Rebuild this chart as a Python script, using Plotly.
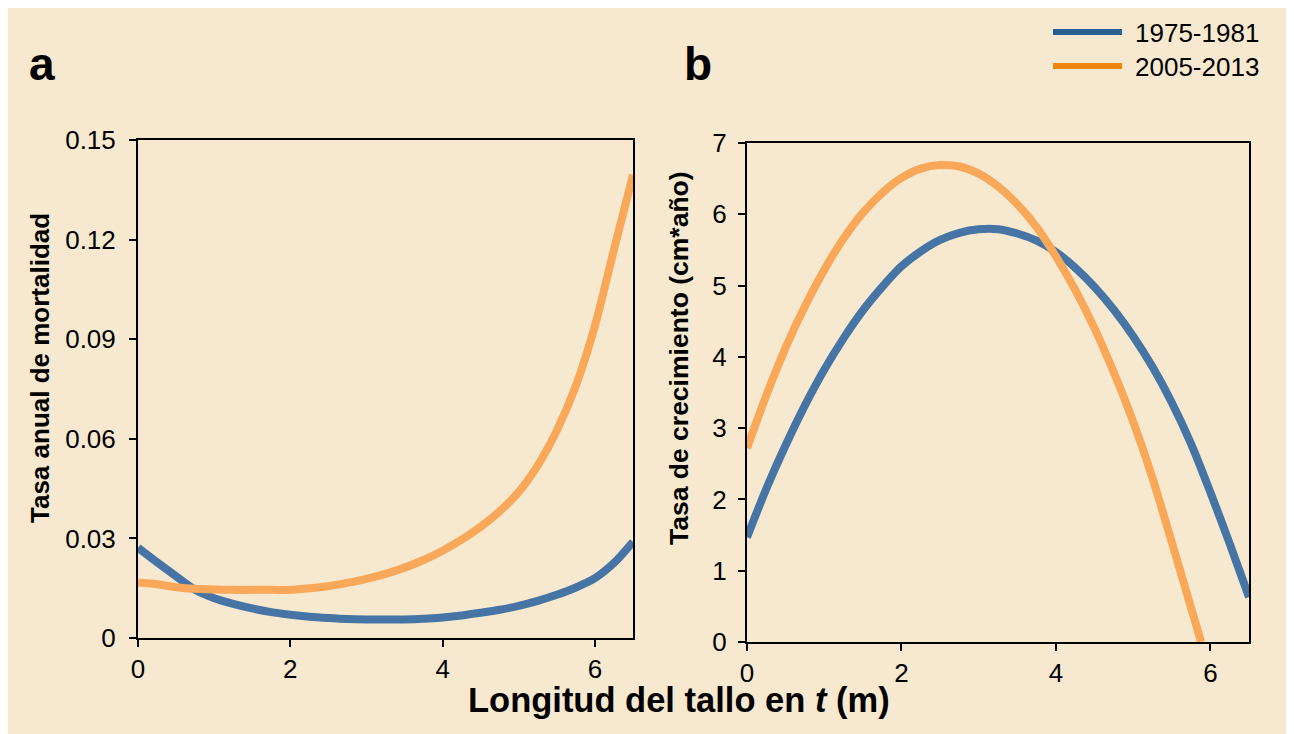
import plotly.graph_objects as go

# panel a: annual mortality rate
len_a = [0, 0.25, 0.5, 0.75, 1.0, 1.25, 1.5, 1.75, 2.0, 2.25, 2.5, 2.75, 3.0, 3.25,
         3.5, 3.75, 4.0, 4.25, 4.5, 4.75, 5.0, 5.25, 5.5, 5.75, 6.0, 6.25, 6.5]
mort_1975 = [0.0272, 0.0228, 0.0186, 0.0145, 0.0120, 0.0103, 0.0089, 0.0078, 0.0070,
             0.0064, 0.0060, 0.0057, 0.0056, 0.0056, 0.0056, 0.0058, 0.0062, 0.0068,
             0.0076, 0.0085, 0.0097, 0.0112, 0.0130, 0.0152, 0.0180, 0.0226, 0.0290]
mort_2005 = [0.0167, 0.0162, 0.0153, 0.0148, 0.0146, 0.0145, 0.0145, 0.0145, 0.0145,
             0.0150, 0.0156, 0.0166, 0.0178, 0.0193, 0.0212, 0.0235, 0.0263, 0.0296,
             0.0335, 0.0382, 0.0440, 0.0520, 0.0625, 0.0760, 0.0940, 0.1170, 0.1395]

# panel b: growth rate
len_b_1975 = [0, 0.25, 0.5, 0.75, 1.0, 1.25, 1.5, 1.75, 2.0, 2.25, 2.5, 2.75, 3.0, 3.25,
              3.5, 3.75, 4.0, 4.25, 4.5, 4.75, 5.0, 5.25, 5.5, 5.75, 6.0, 6.25, 6.5]
grow_1975 = [1.47, 2.15, 2.76, 3.32, 3.82, 4.26, 4.65, 4.98, 5.27, 5.48, 5.64, 5.74,
             5.79, 5.79, 5.73, 5.63, 5.47, 5.25, 4.98, 4.66, 4.29, 3.86, 3.36, 2.78,
             2.10, 1.38, 0.63]
len_b_2005 = [0, 0.25, 0.5, 0.75, 1.0, 1.25, 1.5, 1.75, 2.0, 2.25, 2.5, 2.75, 3.0, 3.25,
              3.5, 3.75, 4.0, 4.25, 4.5, 4.75, 5.0, 5.25, 5.5, 5.75, 5.88]
grow_2005 = [2.72, 3.46, 4.13, 4.71, 5.22, 5.66, 6.02, 6.30, 6.51, 6.64, 6.69, 6.67,
             6.57, 6.39, 6.14, 5.82, 5.41, 4.94, 4.40, 3.78, 3.09, 2.30, 1.40, 0.48, 0.0]

x_ticks = [0, 2, 4, 6]
mort_ticks = [0, 0.03, 0.06, 0.09, 0.12, 0.15]
mort_labels = ["0", "0.03", "0.06", "0.09", "0.12", "0.15"]
grow_ticks = [0, 1, 2, 3, 4, 5, 6, 7]

BLUE = "#4674A4"
ORANGE = "#F9A758"
BG = "#F7E9D0"
FONT = "Arial, Liberation Sans, sans-serif"

W, H = 1294, 734
OFFSET = 8  # page body margin pushes the figure 8px right and down

fig = go.Figure()
line_kw = dict(width=8, shape="spline", smoothing=0.8)
fig.add_trace(go.Scatter(x=len_a, y=mort_1975, mode="lines", line=dict(color=BLUE, **line_kw),
                         xaxis="x", yaxis="y", showlegend=False))
fig.add_trace(go.Scatter(x=len_a, y=mort_2005, mode="lines", line=dict(color=ORANGE, **line_kw),
                         xaxis="x", yaxis="y", showlegend=False))
fig.add_trace(go.Scatter(x=len_b_1975, y=grow_1975, mode="lines", line=dict(color=BLUE, **line_kw),
                         xaxis="x2", yaxis="y2", showlegend=False))
fig.add_trace(go.Scatter(x=len_b_2005, y=grow_2005, mode="lines", line=dict(color=ORANGE, **line_kw),
                         xaxis="x2", yaxis="y2", showlegend=False))

axis_common = dict(
    showline=True, linecolor="black", linewidth=2, mirror=True,
    ticks="outside", ticklen=7, tickwidth=2, tickcolor="black",
    showgrid=False, zeroline=False, automargin=False,
    tickfont=dict(family=FONT, size=26, color="black"),
)


def px_x(p):
    return (p - OFFSET) / W


def px_y(p):
    return 1 - (p - OFFSET) / H


def label(text, x, y, size, angle=0, xanchor="center"):
    return dict(text=text, x=px_x(x), y=px_y(y), xref="paper", yref="paper",
                xanchor=xanchor, yanchor="middle", showarrow=False, textangle=angle,
                font=dict(family=FONT, size=size, color="black"))


fig.update_layout(
    width=W, height=H,
    margin=dict(l=0, r=0, t=0, b=0, pad=0),
    paper_bgcolor="white",
    plot_bgcolor="white",
    xaxis=dict(domain=[px_x(138), px_x(633)], range=[0, 6.5], tickvals=x_ticks,
               anchor="y", **axis_common),
    yaxis=dict(domain=[px_y(638), px_y(140)], range=[0, 0.15], tickvals=mort_ticks,
               ticktext=mort_labels, anchor="x", ticklabelstandoff=8, **axis_common),
    xaxis2=dict(domain=[px_x(747), px_x(1249)], range=[0, 6.5], tickvals=x_ticks,
                anchor="y2", **axis_common),
    yaxis2=dict(domain=[px_y(642), px_y(143)], range=[0, 7], tickvals=grow_ticks,
                anchor="x2", ticklabelstandoff=6, **axis_common),
    shapes=[
        dict(type="rect", xref="paper", yref="paper", x0=0, x1=px_x(1288),
             y0=0, y1=1, fillcolor=BG, line=dict(width=0), layer="below"),
        dict(type="line", xref="paper", yref="paper", x0=px_x(1053), x1=px_x(1122),
             y0=px_y(32), y1=px_y(32), line=dict(color="#295E93", width=6)),
        dict(type="line", xref="paper", yref="paper", x0=px_x(1053), x1=px_x(1122),
             y0=px_y(66), y1=px_y(66), line=dict(color="#EE8510", width=6)),
    ],
    annotations=[
        label("<b>a</b>", 42, 64, 46),
        label("<b>b</b>", 698, 64, 46),
        label("<b>Tasa anual de mortalidad</b>", 40, 368, 26, angle=-90),
        label("<b>Tasa de crecimiento (cm*año)</b>", 679, 358, 26.5, angle=-90),
        label("<b>Longitud del tallo en <i>t</i> (m)</b>", 679, 700, 34.5),
        label("1975-1981", 1133, 33, 26, xanchor="left"),
        label("2005-2013", 1133, 67, 26, xanchor="left"),
    ],
)

fig.write_html("out.html")
